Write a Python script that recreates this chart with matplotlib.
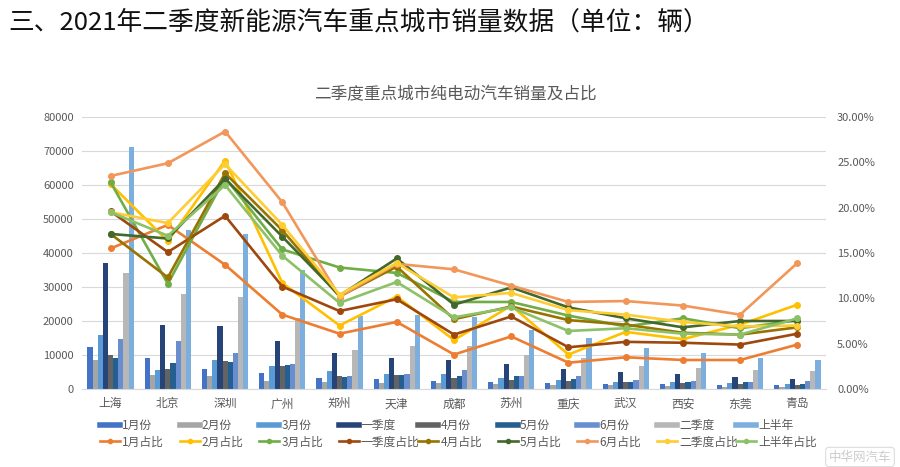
import matplotlib
matplotlib.use('Agg')
import matplotlib.pyplot as plt
from matplotlib.lines import Line2D
import numpy as np

plt.rcParams['font.family'] = ['Noto Sans CJK SC', 'DejaVu Sans']

cities = ["上海", "北京", "深圳", "广州", "郑州", "天津", "成都",
          "苏州", "重庆", "武汉", "西安", "东莞", "青岛"]

# monthly / quarterly sales (vehicles)
m1 = [12400, 9000, 6000, 4800, 3200, 2900, 2400, 2200, 1700, 1400, 1400, 1200, 1100]
m2 = [8600, 4100, 3800, 2500, 2000, 1800, 1800, 1600, 1300, 1200, 1000, 700, 700]
m3 = [15800, 5700, 8500, 6800, 5400, 4400, 4300, 3300, 2600, 2100, 2200, 1700, 1500]
q1 = [37100, 18900, 18500, 14000, 10600, 9200, 8500, 7400, 5900, 4900, 4400, 3500, 2900]
m4 = [10100, 6000, 8300, 6700, 3700, 4100, 3100, 2600, 2500, 2000, 1700, 1500, 1200]
m5 = [9100, 7600, 7800, 7100, 3600, 4100, 3800, 3700, 2900, 2100, 2000, 2000, 1500]
m6 = [14700, 14000, 10700, 7400, 3700, 4300, 5500, 3700, 3700, 2600, 2500, 2000, 2500]
q2 = [34100, 27900, 27000, 21000, 11400, 12600, 12600, 10000, 9100, 6900, 6300, 5600, 5200]
h1 = [71100, 46800, 45600, 35000, 21600, 21800, 21300, 17400, 15100, 12000, 10500, 9000, 8400]

# shares (%)
p1 = [15.5, 18.1, 13.7, 8.2, 6.1, 7.4, 3.8, 5.8, 2.9, 3.5, 3.2, 3.2, 4.9]
p2 = [22.6, 16.3, 25.2, 11.7, 7.0, 10.2, 5.4, 9.2, 3.8, 6.3, 5.5, 7.1, 9.3]
p3 = [22.8, 11.6, 23.3, 15.4, 13.4, 12.8, 9.6, 9.6, 8.1, 6.9, 7.8, 6.7, 7.6]
pq1 = [19.6, 15.1, 19.1, 11.3, 8.6, 9.9, 6.0, 8.0, 4.6, 5.2, 5.1, 4.9, 6.1]
p4 = [17.1, 12.3, 23.8, 17.5, 10.2, 13.5, 7.7, 9.1, 7.6, 7.1, 6.2, 6.0, 6.8]
p5 = [17.1, 16.6, 23.2, 16.8, 10.3, 14.4, 9.3, 11.2, 9.0, 7.8, 6.8, 7.5, 7.5]
p6 = [23.5, 24.9, 28.4, 20.6, 10.2, 13.8, 13.2, 11.4, 9.6, 9.7, 9.2, 8.2, 13.9]
pq2 = [19.5, 18.3, 24.8, 18.1, 10.4, 13.9, 10.1, 10.6, 8.7, 8.2, 7.4, 6.9, 7.0]
ph1 = [19.5, 16.9, 22.5, 14.7, 9.5, 11.8, 7.9, 9.0, 6.4, 6.7, 6.1, 6.0, 7.8]

bar_names = ["1月份", "2月份", "3月份", "一季度", "4月份", "5月份", "6月份", "二季度", "上半年"]
line_names = ["1月占比", "2月占比", "3月占比", "一季度占比", "4月占比", "5月占比",
              "6月占比", "二季度占比", "上半年占比"]
bars = [m1, m2, m3, q1, m4, m5, m6, q2, h1]
lines = [p1, p2, p3, pq1, p4, p5, p6, pq2, ph1]
bar_colors = ["#4472C4", "#A5A5A5", "#5B9BD5", "#264478", "#636363",
              "#255E91", "#698ED0", "#B7B7B7", "#7CAFDD"]
line_colors = ["#ED7D31", "#FFC000", "#70AD47", "#9E480E", "#997300",
               "#43682B", "#F1975A", "#FFCD33", "#8CC168"]

W, H = 900, 467
fig = plt.figure(figsize=(W / 100, H / 100), dpi=100)
ax = fig.add_axes([82 / W, 1 - 389 / H, 744 / W, 272 / H])
ax2 = ax.twinx()

grey = "#595959"
x = np.arange(len(cities))
w = 0.09
for i, (vals, c) in enumerate(zip(bars, bar_colors)):
    ax.bar(x + (i - 4) * w, vals, w, color=c, zorder=2)

ax.set_xlim(-0.5, len(cities) - 0.5)
ax.set_ylim(0, 80000)
ax.set_yticks(range(0, 80001, 10000))
ax.grid(axis='y', color='#d9d9d9', linewidth=0.8)
ax.set_axisbelow(True)
ax.set_xticks(x)
ax.set_xticklabels(cities, fontsize=8.5, color=grey)
ax.tick_params(axis='y', labelsize=8, colors=grey, length=0, pad=6)
ax.tick_params(axis='x', length=0, pad=6)
for s in ['top', 'left', 'right']:
    ax.spines[s].set_visible(False)
    ax2.spines[s].set_visible(False)
ax.spines['bottom'].set_color('#d9d9d9')
ax2.spines['bottom'].set_visible(False)

for vals, c in zip(lines, line_colors):
    ax2.plot(x, vals, color=c, lw=1.9, marker='o', ms=4)
ax2.set_ylim(0, 30)
ax2.set_yticks(range(0, 31, 5))
ax2.set_yticklabels([f"{v:.2f}%" for v in range(0, 31, 5)])
ax2.tick_params(axis='y', labelsize=8, colors=grey, length=0, pad=8)

fig.text(8 / W, 1 - 23 / H, "三、2021年二季度新能源汽车重点城市销量数据（单位：辆）",
         fontsize=18.5, ha='left', va='center', color='#111111')
fig.text(455 / W, 1 - 95 / H, "二季度重点城市纯电动汽车销量及占比",
         fontsize=12, ha='center', va='center', color=grey)

# legend, one column per month
for i in range(9):
    hb = Line2D([], [], color=bar_colors[i], lw=4)
    hl = Line2D([], [], color=line_colors[i], lw=1.9, marker='o', ms=3)
    lg = fig.legend([hb, hl], [bar_names[i], line_names[i]],
                    loc='upper left', bbox_to_anchor=((100 + i * 79.5) / W, 1 - 419 / H),
                    frameon=False, fontsize=8.5, handlelength=1.7, handletextpad=0.2,
                    labelspacing=0.3, borderpad=0, borderaxespad=0)
    for t in lg.get_texts():
        t.set_color(grey)

fig.text(860 / W, 1 - 457 / H, "中华网汽车", fontsize=9, ha='center', va='center',
         color='#cccccc',
         bbox=dict(boxstyle='round,pad=0.25', fc='white', ec='#dddddd', lw=0.8))

fig.savefig("out.png", dpi=100)
